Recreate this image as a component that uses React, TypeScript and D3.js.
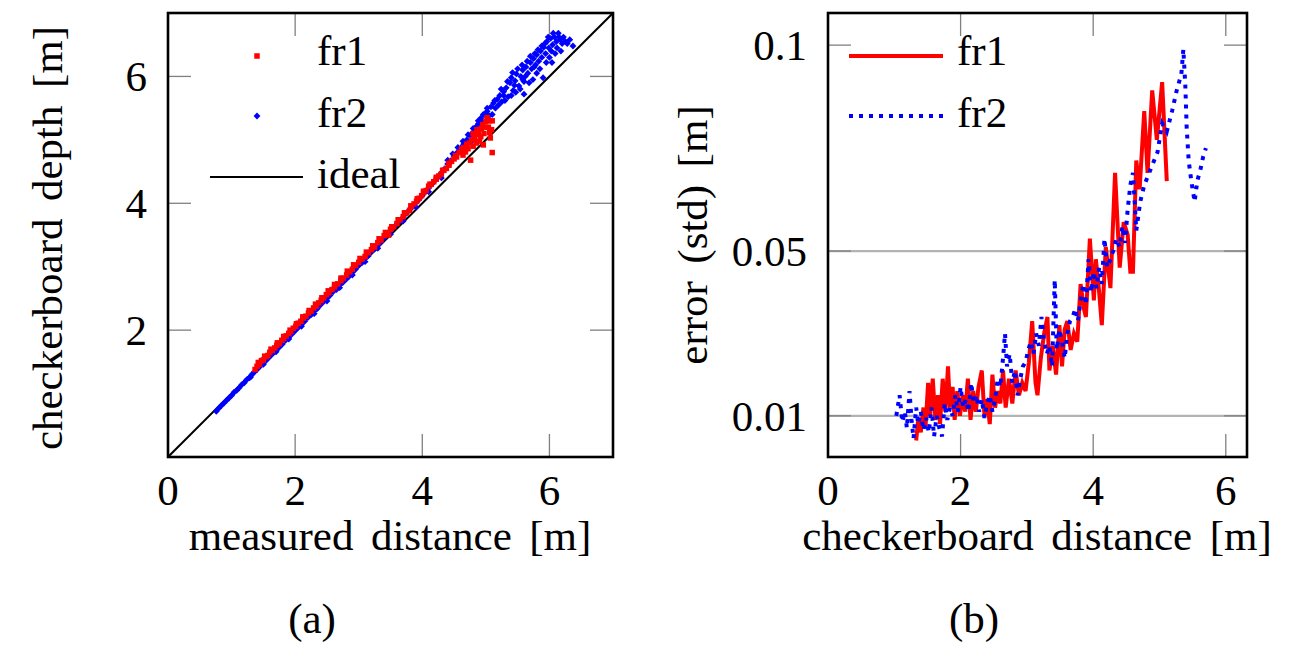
import * as d3 from "d3";

// (a) checkerboard depth vs measured distance  [x, y]
const fr1Depth: [number, number][] = [
  [1.37, 1.38], [1.40, 1.43], [1.44, 1.46], [1.47, 1.52], [1.50, 1.53], [1.54, 1.58], [1.57, 1.60],
  [1.60, 1.65], [1.64, 1.68], [1.68, 1.72], [1.71, 1.76], [1.75, 1.79], [1.79, 1.84], [1.82, 1.87],
  [1.86, 1.91], [1.90, 1.95], [1.93, 1.98], [1.97, 2.03], [2.01, 2.06], [2.05, 2.11], [2.09, 2.14],
  [2.13, 2.19], [2.17, 2.22], [2.21, 2.27], [2.25, 2.30], [2.29, 2.35], [2.33, 2.38], [2.37, 2.43],
  [2.41, 2.47], [2.45, 2.51], [2.49, 2.56], [2.53, 2.59], [2.58, 2.64], [2.62, 2.68], [2.67, 2.73],
  [2.72, 2.78], [2.76, 2.82], [2.81, 2.87], [2.86, 2.92], [2.90, 2.96], [2.95, 3.02], [3.00, 3.07],
  [3.05, 3.12], [3.10, 3.16], [3.15, 3.22], [3.20, 3.27], [3.25, 3.31], [3.30, 3.38], [3.35, 3.42],
  [3.40, 3.49], [3.44, 3.53], [3.47, 3.50], [3.50, 3.59], [3.55, 3.63], [3.60, 3.68], [3.65, 3.74],
  [3.70, 3.79], [3.75, 3.85], [3.80, 3.89], [3.83, 3.95], [3.87, 3.99], [3.91, 4.03], [3.95, 4.08],
  [3.99, 4.12], [4.02, 4.17], [4.06, 4.20], [4.10, 4.27], [4.14, 4.30], [4.18, 4.34], [4.22, 4.38],
  [4.26, 4.43], [4.30, 4.46], [4.34, 4.52], [4.38, 4.55], [4.42, 4.60], [4.46, 4.66], [4.50, 4.70],
  [4.54, 4.73], [4.58, 4.80], [4.62, 4.84], [4.66, 4.88], [4.70, 4.93], [4.72, 4.86], [4.76, 4.68],
  [4.78, 5.00], [4.82, 5.02], [4.85, 5.08], [4.85, 4.95], [4.88, 5.12], [4.90, 4.98], [4.93, 5.18],
  [4.95, 5.24], [4.97, 5.10], [5.00, 5.29], [5.02, 5.35], [5.04, 5.20], [5.07, 5.03], [5.09, 5.16],
  [5.10, 5.30],
  [1.42, 1.49], [1.52, 1.59], [1.62, 1.70], [1.72, 1.80], [1.82, 1.90], [1.92, 2.00], [2.02, 2.10],
  [2.12, 2.21], [2.22, 2.31], [2.32, 2.41], [2.42, 2.51], [2.52, 2.62], [2.62, 2.72], [2.72, 2.82],
  [2.82, 2.93], [2.92, 3.03], [3.02, 3.13], [3.12, 3.23], [3.22, 3.33], [3.32, 3.44], [3.42, 3.54],
  [3.52, 3.63], [3.62, 3.74], [3.72, 3.85], [3.82, 3.96], [3.92, 4.07], [4.02, 4.19], [4.12, 4.30],
  [4.22, 4.41], [4.32, 4.52], [4.42, 4.63], [4.52, 4.75], [4.62, 4.86],
  [4.64, 4.76], [4.68, 4.81], [4.74, 4.95], [4.80, 4.90], [4.80, 5.10], [4.86, 5.16], [4.92, 5.05],
  [4.98, 5.20], [5.05, 5.30], [5.10, 4.80], [4.96, 4.92], [5.06, 5.12],
];

const fr2Depth: [number, number][] = [
  [0.76, 0.72], [0.80, 0.77], [0.84, 0.81], [0.88, 0.85], [0.92, 0.89], [0.96, 0.93], [1.00, 0.97],
  [1.04, 1.02], [1.08, 1.05], [1.12, 1.09], [1.16, 1.14], [1.20, 1.17], [1.24, 1.22], [1.28, 1.25],
  [1.32, 1.30], [1.36, 1.34], [1.40, 1.38], [1.45, 1.43], [1.50, 1.48], [1.55, 1.53], [1.60, 1.58],
  [1.65, 1.63], [1.70, 1.68], [1.75, 1.73], [1.80, 1.78], [1.85, 1.84], [1.90, 1.88], [1.95, 1.94],
  [2.00, 1.99], [2.05, 2.04], [2.10, 2.09], [2.15, 2.14], [2.20, 2.20], [2.25, 2.24], [2.30, 2.30],
  [2.35, 2.34], [2.40, 2.40], [2.45, 2.45], [2.50, 2.50], [2.55, 2.55], [2.60, 2.61], [2.65, 2.64],
  [2.70, 2.71], [2.75, 2.75], [2.80, 2.80], [2.85, 2.85], [2.90, 2.91], [2.95, 2.96], [3.00, 3.02],
  [3.05, 3.06], [3.10, 3.13], [3.15, 3.17], [3.20, 3.24], [3.25, 3.28], [3.30, 3.34], [3.35, 3.39],
  [3.40, 3.45], [3.45, 3.51], [3.50, 3.56], [3.55, 3.62], [3.60, 3.67], [3.65, 3.72], [3.70, 3.78],
  [3.75, 3.84], [3.80, 3.90], [3.85, 3.95], [3.90, 4.01], [3.95, 4.06], [4.00, 4.12], [4.05, 4.18],
  [4.10, 4.24], [4.15, 4.30], [4.20, 4.36], [4.25, 4.42], [4.30, 4.48], [4.35, 4.54], [4.40, 4.62],
  [4.45, 4.67], [4.50, 4.74], [4.55, 4.80], [4.60, 4.87], [4.65, 4.93], [4.70, 5.00], [4.75, 5.07],
  [4.80, 5.12], [4.84, 5.20], [4.88, 5.25], [4.92, 5.34], [4.95, 5.28], [4.98, 5.40], [5.02, 5.45],
  [5.05, 5.38], [5.08, 5.52], [5.12, 5.58], [5.15, 5.50], [5.18, 5.64], [5.22, 5.70], [5.25, 5.60],
  [5.28, 5.76], [5.32, 5.82], [5.35, 5.68], [5.38, 5.90], [5.40, 5.98], [5.43, 5.78], [5.46, 5.93],
  [5.48, 6.04], [5.52, 5.85], [5.55, 6.00], [5.58, 6.10], [5.60, 5.92], [5.63, 6.15], [5.66, 6.05],
  [5.70, 6.22], [5.72, 6.12], [5.75, 6.28], [5.78, 6.18], [5.80, 6.34], [5.83, 6.24], [5.86, 6.40],
  [5.88, 6.30], [5.91, 6.46], [5.94, 6.36], [5.96, 6.55], [5.99, 6.45], [6.02, 6.60], [6.05, 6.50],
  [6.08, 6.62], [6.11, 6.55], [6.14, 6.68], [6.17, 6.58], [6.20, 6.52], [6.25, 6.55], [6.37, 6.48],
  [1.30, 1.26], [1.50, 1.46], [1.70, 1.66], [1.90, 1.86], [2.10, 2.06], [2.30, 2.26], [2.50, 2.46],
  [2.70, 2.67], [2.90, 2.87], [3.10, 3.08], [3.30, 3.29], [3.50, 3.51], [3.70, 3.72], [3.90, 3.94],
  [4.10, 4.18], [4.30, 4.40],
  [4.40, 4.68], [4.48, 4.78], [4.56, 4.88], [4.64, 4.98], [4.72, 5.08], [4.80, 5.18], [4.88, 5.30],
  [4.96, 5.40], [5.02, 5.50], [4.62, 4.80], [4.78, 4.98], [4.94, 5.18],
  [5.10, 5.40], [5.14, 5.62], [5.20, 5.55], [5.24, 5.80], [5.30, 5.62], [5.34, 5.92], [5.40, 5.70],
  [5.42, 6.06], [5.47, 5.75], [5.50, 6.12], [5.54, 5.80], [5.57, 6.18], [5.60, 5.72], [5.62, 6.00],
  [5.65, 6.24], [5.68, 5.90], [5.70, 6.32], [5.74, 5.95], [5.77, 6.36], [5.80, 6.05], [5.82, 6.42],
  [5.85, 6.12], [5.88, 6.48], [5.90, 5.98], [5.93, 6.52], [5.95, 6.22], [5.98, 6.62], [6.00, 6.30],
  [6.03, 6.40], [6.06, 6.68], [6.09, 6.36], [6.12, 6.45], [6.15, 6.62], [6.18, 6.40], [6.22, 6.62],
  [6.28, 6.52], [6.32, 6.58], [6.04, 6.22], [5.76, 6.15], [5.58, 5.95], [5.45, 5.86], [5.28, 5.70],
];

// (b) error (std) vs checkerboard distance  [x, std]
const fr1Error: [number, number][] = [
  [1.33, 0.0040], [1.36, 0.0090], [1.40, 0.0060], [1.44, 0.0120], [1.47, 0.0070], [1.51, 0.0180],
  [1.54, 0.0100], [1.58, 0.0190], [1.62, 0.0090], [1.66, 0.0150], [1.69, 0.0080], [1.73, 0.0190],
  [1.77, 0.0110], [1.81, 0.0220], [1.84, 0.0120], [1.88, 0.0170], [1.91, 0.0090], [1.95, 0.0160],
  [1.99, 0.0100], [2.03, 0.0150], [2.07, 0.0110], [2.11, 0.0190], [2.15, 0.0090], [2.19, 0.0160],
  [2.23, 0.0110], [2.27, 0.0170], [2.32, 0.0210], [2.36, 0.0100], [2.40, 0.0140], [2.44, 0.0080],
  [2.48, 0.0200], [2.52, 0.0120], [2.56, 0.0160], [2.60, 0.0130], [2.64, 0.0210], [2.68, 0.0120],
  [2.73, 0.0190], [2.78, 0.0130], [2.83, 0.0210], [2.88, 0.0150], [2.93, 0.0180], [2.98, 0.0160],
  [3.03, 0.0230], [3.08, 0.0330], [3.13, 0.0180], [3.16, 0.0150], [3.21, 0.0240], [3.26, 0.0300],
  [3.31, 0.0340], [3.34, 0.0210], [3.39, 0.0270], [3.44, 0.0200], [3.49, 0.0320], [3.53, 0.0220],
  [3.57, 0.0310], [3.61, 0.0330], [3.66, 0.0260], [3.71, 0.0300], [3.76, 0.0280], [3.81, 0.0420],
  [3.86, 0.0360], [3.89, 0.0340], [3.95, 0.0530], [4.01, 0.0380], [4.04, 0.0480], [4.09, 0.0400],
  [4.13, 0.0320], [4.19, 0.0510], [4.26, 0.0410], [4.33, 0.0690], [4.40, 0.0460], [4.46, 0.0570],
  [4.52, 0.0540], [4.56, 0.0450], [4.60, 0.0450], [4.65, 0.0720], [4.70, 0.0650], [4.77, 0.0840],
  [4.82, 0.0690], [4.89, 0.0890], [4.96, 0.0770], [5.04, 0.0910], [5.11, 0.0670],
];

const fr2Error: [number, number][] = [
  [1.03, 0.0100], [1.08, 0.0150], [1.12, 0.0085], [1.16, 0.0110], [1.19, 0.0070], [1.23, 0.0160],
  [1.26, 0.0090], [1.29, 0.0045], [1.33, 0.0120], [1.36, 0.0080], [1.40, 0.0110], [1.44, 0.0065],
  [1.48, 0.0095], [1.52, 0.0060], [1.56, 0.0120], [1.60, 0.0050], [1.64, 0.0100], [1.68, 0.0070],
  [1.72, 0.0050], [1.76, 0.0130], [1.80, 0.0090], [1.84, 0.0120], [1.88, 0.0100], [1.92, 0.0150],
  [1.96, 0.0110], [2.00, 0.0170], [2.04, 0.0120], [2.08, 0.0140], [2.12, 0.0110], [2.16, 0.0180],
  [2.20, 0.0130], [2.24, 0.0150], [2.28, 0.0110], [2.32, 0.0140], [2.36, 0.0095], [2.40, 0.0130],
  [2.44, 0.0150], [2.48, 0.0110], [2.52, 0.0140], [2.56, 0.0190], [2.60, 0.0170], [2.64, 0.0240],
  [2.67, 0.0300], [2.70, 0.0220], [2.74, 0.0250], [2.78, 0.0180], [2.82, 0.0210], [2.86, 0.0150],
  [2.90, 0.0190], [2.94, 0.0220], [2.98, 0.0230], [3.02, 0.0260], [3.06, 0.0280], [3.10, 0.0250],
  [3.14, 0.0300], [3.18, 0.0270], [3.22, 0.0340], [3.26, 0.0280], [3.30, 0.0250], [3.34, 0.0270],
  [3.38, 0.0220], [3.42, 0.0430], [3.45, 0.0260], [3.49, 0.0310], [3.53, 0.0280], [3.57, 0.0240],
  [3.61, 0.0300], [3.65, 0.0330], [3.69, 0.0340], [3.73, 0.0360], [3.77, 0.0330], [3.81, 0.0380],
  [3.85, 0.0420], [3.89, 0.0370], [3.93, 0.0480], [3.97, 0.0400], [4.01, 0.0450], [4.05, 0.0410],
  [4.09, 0.0460], [4.13, 0.0420], [4.17, 0.0530], [4.21, 0.0460], [4.26, 0.0480], [4.30, 0.0500],
  [4.35, 0.0530], [4.40, 0.0510], [4.44, 0.0560], [4.48, 0.0520], [4.52, 0.0600], [4.56, 0.0660],
  [4.60, 0.0690], [4.65, 0.0550], [4.71, 0.0620], [4.77, 0.0660], [4.87, 0.0700], [4.97, 0.0740],
  [5.04, 0.0810], [5.11, 0.0790], [5.19, 0.0840], [5.26, 0.0890], [5.33, 0.0930], [5.36, 0.0990],
  [5.39, 0.0900], [5.41, 0.0800], [5.44, 0.0720], [5.48, 0.0670], [5.53, 0.0620], [5.57, 0.0670],
  [5.62, 0.0700], [5.66, 0.0730], [5.70, 0.0750],
];

const ticksA = [2, 4, 6];
const tickLabelsA = [0, 2, 4, 6];
const ticksB = [2, 4, 6];
const tickLabelsBx = [0, 2, 4, 6];
const ticksBy = [0.01, 0.05, 0.1];
const gridBy = [0.01, 0.05];

const FS = 43;
const BASE_FS = 32;
const TICK = 23;
const TICK_COLOR = "#808080";

// text is set at 32px and scaled up, so the serif face is picked the same way as at small sizes
function Label(props: { x: number; y: number; anchor?: string; rotate?: number; dy?: string; ws?: number; children: any }) {
  const k = FS / BASE_FS;
  const rot = props.rotate ? ` rotate(${props.rotate})` : "";
  return (
    <g transform={`translate(${props.x},${props.y})${rot} scale(${k})`}>
      <text textAnchor={props.anchor ?? "start"} dy={props.dy} fontSize={BASE_FS}
        style={{ fontFamily: '"Liberation Serif", "Times New Roman", serif', wordSpacing: props.ws }}>
        {props.children}
      </text>
    </g>
  );
}

export default function App() {
  const xA = d3.scaleLinear().domain([0, 7]).range([168, 613]);
  const yA = d3.scaleLinear().domain([0, 7]).range([457, 13]);
  const xB = d3.scaleLinear().domain([0, 6.32]).range([828, 1247]);
  const yB = d3.scaleLinear().domain([0, 0.1078]).range([457, 13]);

  const lineB = d3.line<[number, number]>().x(d => xB(d[0])).y(d => yB(d[1]));
  const diamond = d3.symbol().type(d3.symbolDiamond2).size(30)();

  return (
    <div style={{ position: "absolute", left: 0, top: 0, width: 1309, height: 651, background: "#fff" }}>
      <svg width={1309} height={651}>
        <defs>
          <clipPath id="clipA"><rect x={168} y={13} width={445} height={444} /></clipPath>
          <clipPath id="clipB"><rect x={828} y={13} width={419} height={444} /></clipPath>
        </defs>

        {/* ---- (a) ---- */}
        {ticksA.map(t => (
          <g key={"ta" + t} stroke={TICK_COLOR} strokeWidth={1.3}>
            <line x1={xA(t)} x2={xA(t)} y1={457} y2={457 - TICK} />
            <line x1={xA(t)} x2={xA(t)} y1={13} y2={13 + TICK} />
            <line x1={168} x2={168 + TICK} y1={yA(t)} y2={yA(t)} />
            <line x1={613} x2={613 - TICK} y1={yA(t)} y2={yA(t)} />
          </g>
        ))}
        <g clipPath="url(#clipA)">
          <line x1={xA(0)} y1={yA(0)} x2={xA(7)} y2={yA(7)} stroke="#000" strokeWidth={2} />
          {fr2Depth.map((d, i) => (
            <path key={"b" + i} d={diamond} transform={`translate(${xA(d[0])},${yA(d[1])})`} fill="#0000ff" />
          ))}
          {fr1Depth.map((d, i) => (
            <rect key={"r" + i} x={xA(d[0]) - 2.75} y={yA(d[1]) - 2.75} width={5.5} height={5.5} fill="#ff0000" />
          ))}
        </g>
        <rect x={168} y={13} width={445} height={444} fill="none" stroke="#000" strokeWidth={2.6} />

        <rect x={254.25} y={53.25} width={5.5} height={5.5} fill="#ff0000" />
        <path d={diamond} transform="translate(257,116)" fill="#0000ff" />
        <line x1={210} x2={303} y1={177} y2={177} stroke="#000" strokeWidth={2} />
        <Label x={317} y={65}>fr1</Label>
        <Label x={317} y={127}>fr2</Label>
        <Label x={317} y={188}>ideal</Label>

        {tickLabelsA.map(t => <Label key={"xl" + t} x={xA(t)} y={505} anchor="middle">{t}</Label>)}
        {ticksA.map(t => <Label key={"yl" + t} x={147} y={yA(t)} dy="0.35em" anchor="end">{t}</Label>)}
        <Label x={390} y={550} anchor="middle" ws={5}>measured distance [m]</Label>
        <Label x={62} y={238} rotate={-90} anchor="middle" ws={5}>checkerboard depth [m]</Label>
        <Label x={312} y={633} anchor="middle">(a)</Label>

        {/* ---- (b) ---- */}
        {gridBy.map(t => (
          <line key={"g" + t} x1={828} x2={1247} y1={yB(t)} y2={yB(t)} stroke="#b3b3b3" strokeWidth={2.2} />
        ))}
        {ticksB.map(t => (
          <g key={"tb" + t} stroke={TICK_COLOR} strokeWidth={1.3}>
            <line x1={xB(t)} x2={xB(t)} y1={457} y2={457 - TICK} />
            <line x1={xB(t)} x2={xB(t)} y1={13} y2={13 + TICK} />
          </g>
        ))}
        {ticksBy.map(t => (
          <g key={"tby" + t} stroke={TICK_COLOR} strokeWidth={1.3}>
            <line x1={828} x2={828 + TICK} y1={yB(t)} y2={yB(t)} />
            <line x1={1247} x2={1247 - TICK} y1={yB(t)} y2={yB(t)} />
          </g>
        ))}
        <g clipPath="url(#clipB)" fill="none">
          <path d={lineB(fr1Error) ?? ""} stroke="#ff0000" strokeWidth={4} />
          <path d={lineB(fr2Error) ?? ""} stroke="#0000ff" strokeWidth={4} strokeDasharray="4 6" />
        </g>
        <rect x={828} y={13} width={419} height={444} fill="none" stroke="#000" strokeWidth={2.6} />

        <line x1={849} x2={943} y1={56} y2={56} stroke="#ff0000" strokeWidth={4} />
        <line x1={849} x2={943} y1={116} y2={116} stroke="#0000ff" strokeWidth={4} strokeDasharray="4 6" />
        <Label x={957} y={65}>fr1</Label>
        <Label x={957} y={127}>fr2</Label>

        {tickLabelsBx.map(t => <Label key={"bxl" + t} x={xB(t)} y={505} anchor="middle">{t}</Label>)}
        {ticksBy.map(t => <Label key={"byl" + t} x={807} y={yB(t)} dy="0.35em" anchor="end">{t}</Label>)}
        <Label x={1037} y={550} anchor="middle" ws={5}>checkerboard distance [m]</Label>
        <Label x={707} y={235} rotate={-90} anchor="middle" ws={5}>error (std) [m]</Label>
        <Label x={974} y={633} anchor="middle">(b)</Label>
      </svg>
    </div>
  );
}
